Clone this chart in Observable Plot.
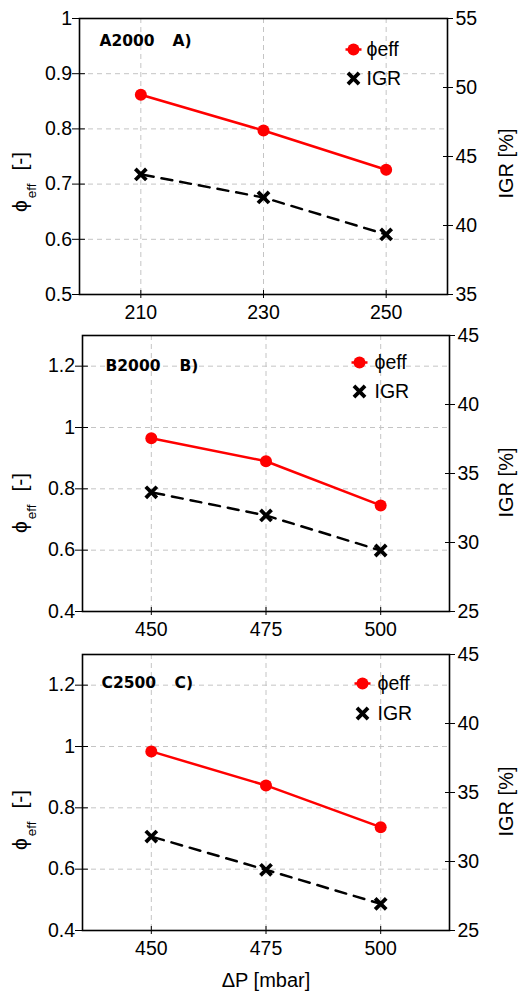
<!DOCTYPE html>
<html>
<head>
<meta charset="utf-8">
<script src="https://cdn.jsdelivr.net/npm/d3@7"></script>
<script src="https://cdn.jsdelivr.net/npm/@observablehq/plot@0.6"></script>
<style>
  body { margin: 0; background: #fff; }
  #chart { width: 518px; }
  #chart svg { display: block; }
</style>
</head>
<body>
<div id="chart"></div>
<script>
// Pressure drop levels (mbar)
const pressureA = [210, 230, 250];
const pressureBC = [450, 475, 500];

// Effective porosity φeff [-] and IGR [%] per sample
const phiA = [0.862, 0.797, 0.726];
const igrA = [43.7, 42.03, 39.35];
const phiB = [0.965, 0.890, 0.746];
const igrB = [33.64, 31.96, 29.42];
const phiC = [0.984, 0.873, 0.737];
const igrC = [31.81, 29.4, 26.93];

// Axis ticks
const phiTicksA = [0.5, 0.6, 0.7, 0.8, 0.9, 1];
const phiTicksBC = [0.4, 0.6, 0.8, 1, 1.2];
const igrTicksA = [35, 40, 45, 50, 55];
const igrTicksBC = [25, 30, 35, 40, 45];

// Panel captions
const sampleNames = ["A2000", "B2000", "C2500"];
const panelLetters = ["A)", "B)", "C)"];
const seriesNames = ["ϕeff", "IGR"];

const FONT = "'Liberation Sans', Arial, Helvetica, sans-serif";
const RED = "#ff0000";

const panels = [
  {
    pressure: pressureA, phi: phiA, igr: igrA,
    xDomain: [200, 260], phiDomain: [0.5, 1], phiTicks: phiTicksA,
    igrDomain: [35, 55], igrTicks: igrTicksA,
    height: 318, marginTop: 18, marginBottom: 24, marginLeft: 79, marginRight: 71,
    name: sampleNames[0], letter: panelLetters[0], labelDx: [20, 93], labelDy: 23,
    legendDx: -94, legendTextDx: -81, legendDy: [31, 60], leftDy: 26, rightDy: 7, xTitle: false
  },
  {
    pressure: pressureBC, phi: phiB, igr: igrB,
    xDomain: [435, 515], phiDomain: [0.4, 1.3], phiTicks: phiTicksBC,
    igrDomain: [25, 45], igrTicks: igrTicksBC,
    height: 317, marginTop: 17, marginBottom: 24, marginLeft: 82, marginRight: 69,
    name: sampleNames[1], letter: panelLetters[1], labelDx: [23, 97], labelDy: 31,
    legendDx: -90, legendTextDx: -75, legendDy: [27, 56], leftDy: 30, rightDy: 9, xTitle: false
  },
  {
    pressure: pressureBC, phi: phiC, igr: igrC,
    xDomain: [435, 515], phiDomain: [0.4, 1.3], phiTicks: phiTicksBC,
    igrDomain: [25, 45], igrTicks: igrTicksBC,
    height: 362, marginTop: 19, marginBottom: 67, marginLeft: 82, marginRight: 69,
    name: sampleNames[2], letter: panelLetters[2], labelDx: [19, 92], labelDy: 29,
    legendDx: -87, legendTextDx: -72, legendDy: [29, 59], leftDy: 28, rightDy: 9, xTitle: true
  }
];

// short horizontal stroke drawn behind the legend dot
const legendDash = { draw(ctx) { ctx.moveTo(-8, 0); ctx.lineTo(8, 0); } };

function drawPanel(p) {
  // IGR is plotted against the right axis: map it onto the φeff scale
  const toPhi = d3.scaleLinear().domain(p.igrDomain).range(p.phiDomain);
  const rows = p.pressure.map((x, i) => ({ x, phi: p.phi[i], igr: toPhi(p.igr[i]) }));
  const inner = p.phiTicks.filter(t => t > p.phiDomain[0] && t < p.phiDomain[1]);
  const fmt = d => String(+d.toFixed(2));
  const mid = { lineAnchor: "middle" };

  const marks = [
    Plot.gridX(p.pressure, { stroke: "#c4c4c4", strokeOpacity: 1, strokeDasharray: "5,4" }),
    Plot.gridY(inner, { stroke: "#c4c4c4", strokeOpacity: 1, strokeDasharray: "5,4" }),
    Plot.frame({ stroke: "black", strokeWidth: 1.6 }),
    Plot.axisX({ ticks: p.pressure, tickSize: 8, dy: -4, tickPadding: 7, label: null, tickFormat: d => String(d) }),
    Plot.axisY({ ticks: p.phiTicks, tickSize: 13, dx: 6, tickPadding: 0.5, label: null, tickFormat: fmt }),
    Plot.axisY(p.igrTicks.map(v => toPhi(v)), {
      anchor: "right", tickSize: 10, dx: -5, tickPadding: 3, label: null,
      tickFormat: d => String(Math.round(toPhi.invert(d)))
    }),
    Plot.line(rows, { x: "x", y: "phi", stroke: RED, strokeWidth: 2.5 }),
    Plot.line(rows, { x: "x", y: "igr", stroke: "black", strokeWidth: 2.5, strokeDasharray: "11,8", strokeDashoffset: 17 }),
    Plot.dot(rows, { x: "x", y: "phi", r: 6, fill: RED }),
    Plot.dot(rows, { x: "x", y: "igr", symbol: "times", r: 5.1, stroke: "black", strokeWidth: 3.8 }),
    // sample caption
    Plot.text([p.name], { frameAnchor: "top-left", dx: p.labelDx[0], dy: p.labelDy, textAnchor: "start", ...mid,
      fontWeight: "bold", fontSize: 15.5, fontFamily: "'DejaVu Sans', sans-serif" }),
    Plot.text([p.letter], { frameAnchor: "top-left", dx: p.labelDx[1], dy: p.labelDy, textAnchor: "start", ...mid,
      fontWeight: "bold", fontSize: 15.5, fontFamily: "'DejaVu Sans', sans-serif" }),
    // legend
    Plot.dot([0], { frameAnchor: "top-right", dx: p.legendDx, dy: p.legendDy[0], symbol: legendDash, stroke: RED, strokeWidth: 2.5 }),
    Plot.dot([0], { frameAnchor: "top-right", dx: p.legendDx, dy: p.legendDy[0], r: 6, fill: RED }),
    Plot.text([seriesNames[0]], { frameAnchor: "top-right", dx: p.legendTextDx, dy: p.legendDy[0], textAnchor: "start", ...mid }),
    Plot.dot([0], { frameAnchor: "top-right", dx: p.legendDx, dy: p.legendDy[1], symbol: "times", r: 5.1, stroke: "black", strokeWidth: 3.8 }),
    Plot.text([seriesNames[1]], { frameAnchor: "top-right", dx: p.legendTextDx, dy: p.legendDy[1], textAnchor: "start", ...mid }),
    // right axis title
    Plot.text(["IGR [%]"], { frameAnchor: "right", dx: p.marginRight - 12, dy: p.rightDy, rotate: -90, textAnchor: "middle", ...mid, fontSize: 20 })
  ];
  if (p.xTitle) {
    marks.push(Plot.text(["ΔP [mbar]"], { frameAnchor: "bottom", dy: 50, textAnchor: "middle", ...mid, fontSize: 20 }));
  }

  const svg = Plot.plot({
    width: 518,
    height: p.height,
    marginTop: p.marginTop,
    marginBottom: p.marginBottom,
    marginLeft: p.marginLeft,
    marginRight: p.marginRight,
    style: { fontFamily: FONT, fontSize: "19.5px", color: "black", background: "white", overflow: "visible" },
    x: { domain: p.xDomain },
    y: { domain: p.phiDomain },
    marks
  });

  // left axis title with subscript
  const cy = p.marginTop + (p.height - p.marginTop - p.marginBottom) / 2 + p.leftDy;
  const t = d3.select(svg).append("text")
    .attr("transform", `translate(27,${cy}) rotate(-90)`)
    .attr("text-anchor", "middle")
    .attr("font-family", FONT)
    .attr("font-size", 21)
    .attr("fill", "black");
  t.append("tspan").text("ϕ");
  t.append("tspan").attr("font-size", 13.5).attr("dy", 9).attr("dx", 2).text("eff");
  t.append("tspan").attr("dy", -9).attr("dx", 13).text("[-]");

  return svg;
}

const chart = document.getElementById("chart");
panels.forEach(p => chart.appendChild(drawPanel(p)));
</script>
</body>
</html>
